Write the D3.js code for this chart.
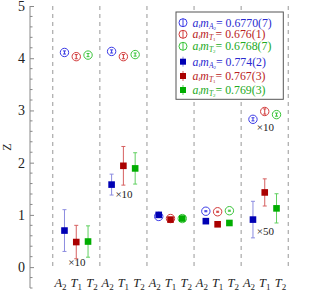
<!DOCTYPE html>
<html>
<head>
<meta charset="utf-8">
<script src="https://cdn.jsdelivr.net/npm/d3@7"></script>
<style>
  body { margin: 0; background: #fff; }
  text { font-family: "Liberation Serif", "DejaVu Serif", serif; }
</style>
</head>
<body>
<div id="chart"></div>
<script>
// data
var groups = [0, 1, 2, 3, 4];
var states = ["A2", "T1", "T2"];
var openVal = [[4.11, 4.03, 4.06], [4.13, 4.03, 4.07], [0.97, 0.93, 0.93], [1.07, 1.06, 1.08], [2.83, 2.98, 2.92]];
var openErr = [[0.03, 0.04, 0.03], [0.03, 0.04, 0.03], [0.01, 0.01, 0.01], [0.01, 0.01, 0.01], [0.03, 0.05, 0.03]];
var fillVal = [[0.70, 0.48, 0.49], [1.58, 1.94, 1.89], [1.00, 0.91, 0.93], [0.88, 0.82, 0.845], [0.91, 1.43, 1.125]];
var fillErr = [[0.40, 0.32, 0.30], [0.20, 0.37, 0.30], [0.01, 0.01, 0.01], [0.01, 0.01, 0.01], [0.35, 0.26, 0.28]];
var yTicks = [0, 1, 2, 3, 4, 5];
var notes = [{g: 0, s: "T1", v: 0.02, t: "×10"}, {g: 1, s: "T1", v: 1.32, t: "×10"}, {g: 4, s: "T1", v: 2.6, t: "×10"}, {g: 4, s: "T1", v: 0.62, t: "×50"}];
var legendOpen = [["A", "2", "0.6770(7)"], ["T", "1", "0.676(1)"], ["T", "2", "0.6768(7)"]];
var legendFill = [["A", "2", "0.774(2)"], ["T", "1", "0.767(3)"], ["T", "2", "0.769(3)"]];

var openCol = {A2: "#3a3ae6", T1: "#d23a3a", T2: "#3ac43a"};
var fillCol = {A2: "#0000b4", T1: "#aa0000", T2: "#00ad00"};
var barCol = {A2: "#8c8ce0", T1: "#d66060", T2: "#60d060"};
var textCol = {A2: "#2a2ad0", T1: "#b82222", T2: "#22aa22"};

var w = 312, h = 299;
var svg = d3.select("#chart").append("svg").attr("width", w).attr("height", h);

var x = d3.scaleBand().domain(groups).range([52.7, 288.3]).padding(0);
var xs = d3.scalePoint().domain(states).range([0, x.bandwidth()]).padding(1);
var xl = d3.scaleBand().domain(states).range([0, x.bandwidth()]).padding(0);
var y = d3.scaleLinear().domain([-0.4, 5]).range([288, 6]);
function px(g, s) { return x(g) + xs(s); }

// dashed separators
var seps = groups.map(function(g) { return x(g); }).concat([x(4) + x.bandwidth()]);
svg.selectAll(".sep").data(seps).enter().append("line")
  .attr("x1", function(d) { return d; }).attr("x2", function(d) { return d; })
  .attr("y1", y(5)).attr("y2", y(0))
  .attr("stroke", "#b0b0b0").attr("stroke-width", 1.3).attr("stroke-dasharray", "4,4");

// y axis
var ax = 30;
var yAxis = d3.axisLeft(y).tickValues(yTicks).tickSizeInner(-4).tickSizeOuter(0).tickPadding(5).tickFormat(d3.format("d"));
var gy = svg.append("g").attr("transform", "translate(" + ax + ",0)").call(yAxis);
gy.select(".domain").remove();
gy.selectAll(".tick line").attr("stroke", "#888");
gy.selectAll(".tick text").attr("fill", "#222").style("font-size", "14px");
var minor = d3.range(-0.4, 5.001, 0.2).filter(function(v) { return Math.abs(v - Math.round(v)) > 0.01; });
svg.selectAll(".minor").data(minor).enter().append("line")
  .attr("x1", ax).attr("x2", ax + 2.5)
  .attr("y1", function(d) { return y(d); }).attr("y2", function(d) { return y(d); })
  .attr("stroke", "#888");
svg.append("line").attr("x1", ax).attr("x2", ax).attr("y1", y(-0.4)).attr("y2", y(5)).attr("stroke", "#888");

svg.append("text").attr("transform", "translate(11," + y(2.3) + ") rotate(-90)")
  .attr("text-anchor", "middle").attr("fill", "#222").style("font-size", "12px").text("Z");

// bottom labels, evenly spread over each group
groups.forEach(function(g) {
  states.forEach(function(s) {
    var t = svg.append("text").attr("x", x(g) + xl(s) + xl.bandwidth() / 2).attr("y", 287).attr("text-anchor", "middle")
      .attr("fill", "#222").style("font-size", "12.5px");
    t.append("tspan").style("font-style", "italic").text(s[0]);
    t.append("tspan").attr("dy", 3).style("font-size", "9px").text(s[1]);
  });
});

function errBar(sel, cx, v, e, col, cap) {
  sel.append("line").attr("x1", cx).attr("x2", cx).attr("y1", y(v - e)).attr("y2", y(v + e)).attr("stroke", col).attr("stroke-width", 1);
  [v - e, v + e].forEach(function(b) {
    sel.append("line").attr("x1", cx - cap).attr("x2", cx + cap).attr("y1", y(b)).attr("y2", y(b)).attr("stroke", col).attr("stroke-width", 1);
  });
}

// open circles
var gOpen = svg.append("g");
groups.forEach(function(g, i) {
  states.forEach(function(s, j) {
    var cx = px(g, s), v = openVal[i][j];
    gOpen.append("circle").attr("cx", cx).attr("cy", y(v)).attr("r", 4.2)
      .attr("fill", "white").attr("stroke", openCol[s]).attr("stroke-width", 1);
    errBar(gOpen, cx, v, openErr[i][j], openCol[s], 1.5);
  });
});

// filled squares
var gFill = svg.append("g");
groups.forEach(function(g, i) {
  states.forEach(function(s, j) {
    var cx = px(g, s), v = fillVal[i][j];
    if (fillErr[i][j] > 0.05) errBar(gFill, cx, v, fillErr[i][j], barCol[s], 2);
    gFill.append("rect").attr("x", cx - 3.3).attr("y", y(v) - 3.3).attr("width", 6.6).attr("height", 6.6)
      .attr("fill", fillCol[s]);
  });
});

// scale notes
svg.selectAll(".note").data(notes).enter().append("text")
  .attr("x", function(d) { return px(d.g, d.s) - 8; })
  .attr("y", function(d) { return y(d.v); })
  .attr("fill", "#222").style("font-size", "11px")
  .text(function(d) { return d.t; });

// legend
var lg = svg.append("g");
lg.append("rect").attr("x", 176).attr("y", 12).attr("width", 107.3).attr("height", 87.3)
  .attr("fill", "white").attr("stroke", "#555").attr("stroke-width", 1);
var rowsY = [22.7, 34.3, 46.3, 61.7, 76, 90];
function legText(yy, item, col) {
  var t = lg.append("text").attr("x", 192.5).attr("y", yy + 3.8).attr("fill", col).style("font-size", "11.8px");
  t.append("tspan").style("font-style", "italic").text("a");
  t.append("tspan").style("font-style", "italic").style("font-size", "7px").attr("dy", 1).text("t");
  t.append("tspan").style("font-style", "italic").attr("dy", -1).text("m");
  t.append("tspan").style("font-style", "italic").style("font-size", "7.5px").attr("dy", 2).text(item[0]);
  t.append("tspan").style("font-size", "5px").attr("dy", 1).text(item[1]);
  t.append("tspan").attr("dy", -3).text("= " + item[2]);
}
legendOpen.forEach(function(item, k) {
  var s = item[0] + item[1], yy = rowsY[k];
  lg.append("circle").attr("cx", 183).attr("cy", yy).attr("r", 4).attr("fill", "white").attr("stroke", openCol[s]);
  lg.append("line").attr("x1", 183).attr("x2", 183).attr("y1", yy - 4).attr("y2", yy + 4).attr("stroke", openCol[s]);
  legText(yy, item, textCol[s]);
});
legendFill.forEach(function(item, k) {
  var s = item[0] + item[1], yy = rowsY[k + 3];
  lg.append("line").attr("x1", 183).attr("x2", 183).attr("y1", yy - 5).attr("y2", yy + 5).attr("stroke", barCol[s]);
  lg.append("rect").attr("x", 180).attr("y", yy - 3).attr("width", 6).attr("height", 6).attr("fill", fillCol[s]);
  legText(yy, item, textCol[s]);
});
</script>
</body>
</html>
